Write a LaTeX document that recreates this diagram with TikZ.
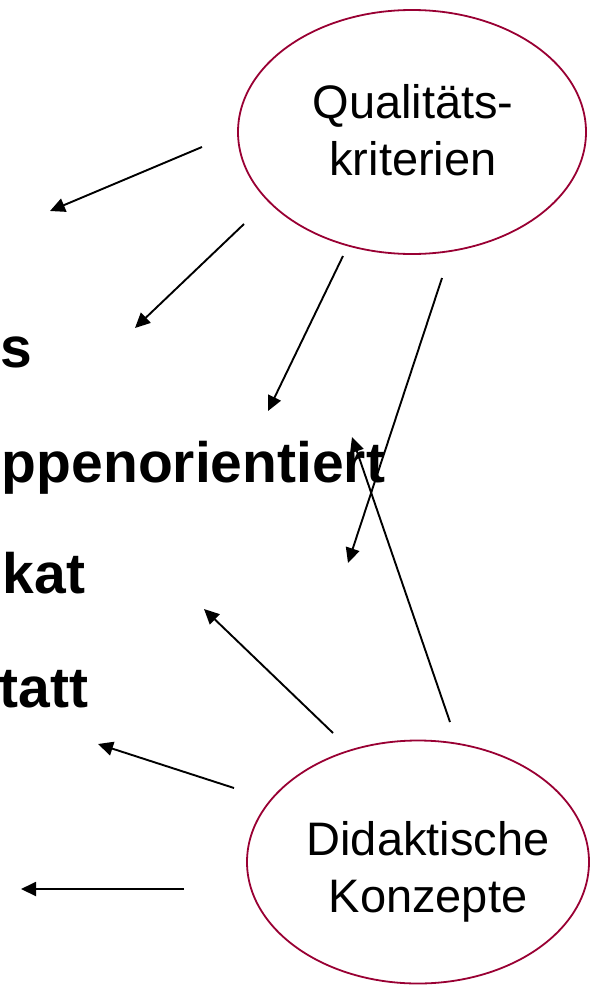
\documentclass[tikz,border=0pt]{standalone}
\usepackage{fontspec}
\setmainfont{Liberation Sans}
\usepackage{tikz}
\usetikzlibrary{arrows.meta,shapes.geometric}
\usepackage{xcolor}
\definecolor{bubred}{RGB}{153,0,51}
\tikzstyle{bub}=[draw=bubred, line width=1.8pt, ellipse, inner sep=0pt]
\tikzstyle{bubtxt}=[align=center, inner sep=0pt, text depth=0pt, font=\fontsize{47}{57}\selectfont]
\tikzstyle{item}=[anchor=base east, inner sep=0pt, font=\fontsize{57}{60}\selectfont\bfseries]

\begin{document}
\begin{tikzpicture}[x=1pt,y=-1pt,line width=1.9pt,>={Triangle[length=15pt,width=14pt]}]
        \useasboundingbox (0,0) rectangle (590,985);
        % the two bubbles
        \node [bub, minimum width=348pt, minimum height=244pt] (qk) at (412,132) {};
        \node [bubtxt] (qktxt) at (413,130) {Qualitäts-\\kriterien};
        \node [bub, minimum width=342pt, minimum height=243pt] (dk) at (418,862) {};
        \node [bubtxt] (dktxt) at (428,867) {Didaktische\\Konzepte};
        
        % list on the left
        \node [item] (ls) at (33,367) {s};
        \node [item] (lgrp) at (386,482) {ppenorientiert};
        \node [item] (lkat) at (86,593) {kat};
        \node [item] (ltatt) at (89,707) {tatt};
        
        \coordinate (q1) at (202,147);  \coordinate (e1) at (50,211);
        \coordinate (q2) at (244,224);  \coordinate (e2) at (135,328);
        \coordinate (q3) at (343,256);  \coordinate (e3) at (268,411);
        \coordinate (q4) at (442,278);  \coordinate (e4) at (348,563);
        \coordinate (d1) at (450,722);  \coordinate (f1) at (352,437);
        \coordinate (d2) at (333,733);  \coordinate (f2) at (204,609);
        \coordinate (d3) at (234,788);  \coordinate (f3) at (98,744);
        \coordinate (d4) at (184,889);  \coordinate (f4) at (21,889);
        
        \path[->] (q1) edge (e1);
        \path[->] (q2) edge (e2);
        \path[->] (q3) edge (e3);
        \path[->] (q4) edge (e4);
        \path[->] (d1) edge (f1);
        \path[->] (d2) edge (f2);
        \path[->] (d3) edge (f3);
        \path[->] (d4) edge (f4);
\end{tikzpicture}
\end{document}
